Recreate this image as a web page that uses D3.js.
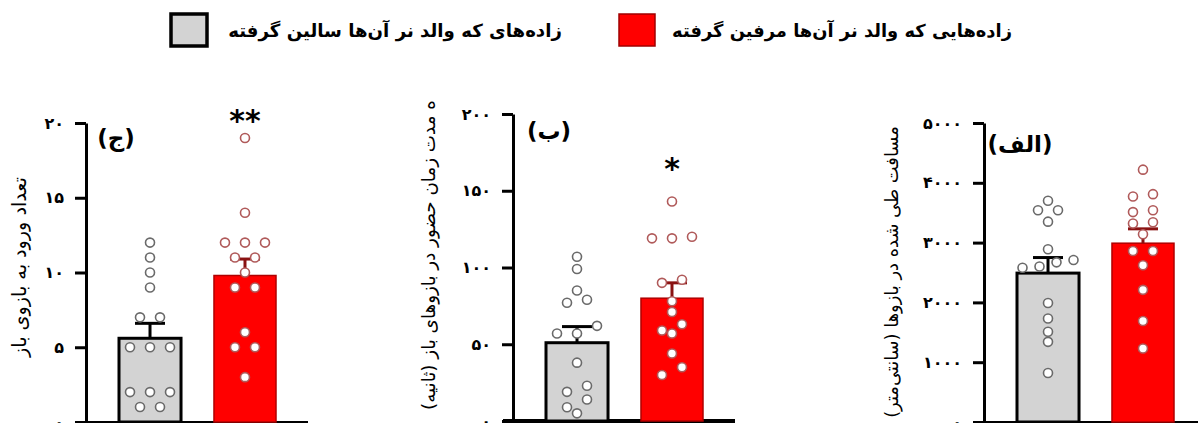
<!DOCTYPE html>
<html lang="fa">
<head>
<meta charset="UTF-8">
<title>Chart</title>
<style>
  body { margin: 0; background: #fff; }
  svg text { font-family: "DejaVu Sans", sans-serif; }
</style>
</head>
<body>
<script src="https://cdn.jsdelivr.net/npm/d3@7"></script>
<div id="chart"></div>
<script>
// ---- data ----
const groups = ["saline", "morphine"]
const legendLabels = ["زاده‌های که والد نر آن‌ها سالین گرفته", "زاده‌هایی که والد نر آن‌ها مرفین گرفته"]

// panel (ج) - number of entries
const entriesTicks = [0, 5, 10, 15, 20]
const entriesMean = [5.6, 9.8]
const entriesSem = [1.0, 1.1]
const entriesSaline = [12, 11, 10, 9, 7, 7, 5, 5, 5, 2, 2, 2, 1, 1]
const entriesMorphine = [19, 14, 12, 12, 12, 11, 11, 10, 9, 9, 6, 5, 5, 3]

// panel (ب) - time in open arms
const timeTicks = [0, 50, 100, 150, 200]
const timeMean = [51, 80]
const timeSem = [10.5, 10]
const timeSaline = [107, 99, 85, 79, 77, 62, 57, 57, 38, 23, 19, 14, 9, 5]
const timeMorphine = [143, 120, 119, 119, 92, 90, 78, 71, 63, 59, 57, 44, 35, 30]

// panel (الف) - distance
const distTicks = [0, 1000, 2000, 3000, 4000, 5000]
const distMean = [2490, 2990]
const distSem = [260, 240]
const distSaline = [3700, 3540, 3540, 3350, 2890, 2710, 2670, 2600, 2580, 1990, 1730, 1510, 1340, 820]
const distMorphine = [4220, 3810, 3770, 3540, 3510, 3340, 3320, 3140, 2860, 2860, 2620, 2210, 1690, 1230]

const WIDTH = 1198, HEIGHT = 423
const svg = d3.select("#chart").append("svg")
    .attr("width", WIDTH).attr("height", HEIGHT)

const faDigits = "۰۱۲۳۴۵۶۷۸۹"
const toFa = d => String(d).replace(/\d/g, c => faDigits[+c])

// shrink/grow a text node so it spans the given width
const fitText = (sel, target) => {
    const len = sel.node().getComputedTextLength()
    const fs = parseFloat(sel.style("font-size"))
    sel.style("font-size", (fs * target / len) + "px")
}

// ---- legend ----
const legendBoxes = [{ x: 171, fill: "#d3d3d3", stroke: "#000", sw: 3.5 }, { x: 619, fill: "#ff0000", stroke: "#a00000", sw: 1.5 }]
const legendText = [{ cx: 395, w: 334 }, { cx: 842, w: 340 }]
legendLabels.forEach((lab, i) => {
    svg.append("rect")
        .attr("x", legendBoxes[i].x).attr("y", 14)
        .attr("width", 36).attr("height", 32)
        .attr("fill", legendBoxes[i].fill)
        .attr("stroke", legendBoxes[i].stroke)
        .attr("stroke-width", legendBoxes[i].sw)
    const t = svg.append("text")
        .attr("x", legendText[i].cx).attr("y", 37)
        .attr("text-anchor", "middle")
        .attr("direction", "rtl")
        .style("font-size", "18px")
        .style("font-weight", "bold")
        .text(lab)
    fitText(t, legendText[i].w)
})

// ---- panels ----
const panels = [
    { axisX: 86, yr: [422, 123], ticks: entriesTicks, mean: entriesMean, sem: entriesSem,
      pts: [entriesSaline, entriesMorphine], title: "تعداد ورود به بازوی باز", titleX: 19, titleY: 267, titleW: 180,
      label: "(ج)", labelX: 116, labelY: 146, star: "**", baseW: 2 },
    { axisX: 513, yr: [421, 114], ticks: timeTicks, mean: timeMean, sem: timeSem,
      pts: [timeSaline, timeMorphine], title: "ه  مدت زمان حضور در بازوهای باز (ثانیه)", titleX: 428, titleY: 255, titleW: 310,
      label: "(ب)", labelX: 549, labelY: 139, star: "*", baseW: 4 },
    { axisX: 984, yr: [422, 123], ticks: distTicks, mean: distMean, sem: distSem,
      pts: [distSaline, distMorphine], title: "مسافت طی شده در بازوها (سانتی‌متر)", titleX: 891, titleY: 272, titleW: 292,
      label: "(الف)", labelX: 1020, labelY: 152, star: "", baseW: 2 }
]

const barFill = ["#d3d3d3", "#ff0000"]
const barStroke = ["#000", "#b00000"]
const barSW = [3, 1.5]
const errColor = ["#000", "#8a1212"]
const dotStroke = ["#6a6a6a", "#b05a5a"]
const R = 4.5

// column scatter: rows of near-equal values are centred, the rest dodge sideways
const swarm = (values, y, cx) => {
    const minD = 9.5, rowTol = 8.2
    const pts = values.map(v => ({ v, y: y(v) })).sort((a, b) => a.y - b.y)
    const placed = []
    const hit = (x, yy) => placed.some(p => Math.hypot(p.x - x, p.y - yy) < minD)
    let i = 0
    while (i < pts.length) {
        const row = [pts[i]]
        let j = i + 1
        while (j < pts.length && pts[j].y - pts[i].y <= rowTol) { row.push(pts[j]); j++ }
        row.sort((a, b) => a.v - b.v)
        const s = row.length > 3 ? 17 : 20
        const xs = row.map((p, k) => cx + (k - (row.length - 1) / 2) * s)
        if (row.every((p, k) => !hit(xs[k], p.y))) {
            row.forEach((p, k) => { p.x = xs[k]; placed.push(p) })
        } else {
            row.forEach(p => {
                for (let k = 0; k < 20; k++) {
                    const off = k === 0 ? 0 : (k % 2 ? -1 : 1) * Math.ceil(k / 2) * 20
                    if (!hit(cx + off, p.y)) { p.x = cx + off; placed.push(p); break }
                }
            })
        }
        i = j
    }
    return placed
}

panels.forEach(P => {
    const g = svg.append("g")
    const y = d3.scaleLinear()
        .domain([0, d3.max(P.ticks)])
        .range(P.yr)
    const x = d3.scaleBand()
        .domain(groups)
        .range([P.axisX + 33, P.axisX + 190])
        .paddingInner(0.347)
        .paddingOuter(0)

    // baseline
    g.append("line")
        .attr("x1", P.axisX - 10).attr("x2", P.axisX + 222)
        .attr("y1", y(0)).attr("y2", y(0))
        .attr("stroke", "#000").attr("stroke-width", P.baseW)

    // y axis
    const ax = g.append("g")
        .attr("transform", `translate(${P.axisX},0)`)
        .call(d3.axisLeft(y).tickValues(P.ticks).tickFormat(toFa)
            .tickSize(11).tickSizeOuter(0).tickPadding(11))
    ax.select(".domain").attr("stroke-width", 3).attr("stroke", "#000")
    ax.selectAll(".tick line").attr("stroke-width", 3).attr("stroke", "#000")
    ax.selectAll(".tick text")
        .style("font-size", "16px").style("font-weight", "bold")
        .attr("fill", "#000").attr("font-family", "DejaVu Sans")

    // bars
    groups.forEach((grp, i) => {
        g.append("rect")
            .attr("x", x(grp)).attr("width", x.bandwidth())
            .attr("y", y(P.mean[i])).attr("height", y(0) - y(P.mean[i]))
            .attr("fill", barFill[i]).attr("stroke", barStroke[i]).attr("stroke-width", barSW[i])
        const cx = x(grp) + x.bandwidth() / 2
        const top = y(P.mean[i] + P.sem[i])
        g.append("line")
            .attr("x1", cx).attr("x2", cx)
            .attr("y1", y(P.mean[i])).attr("y2", top)
            .attr("stroke", errColor[i]).attr("stroke-width", 3)
        g.append("line")
            .attr("x1", cx - 15).attr("x2", cx + 15)
            .attr("y1", top).attr("y2", top)
            .attr("stroke", errColor[i]).attr("stroke-width", 3)
    })

    // points
    groups.forEach((grp, i) => {
        const cx = x(grp) + x.bandwidth() / 2
        g.selectAll(null)
            .data(swarm(P.pts[i], y, cx))
            .join("circle")
            .attr("cx", d => d.x).attr("cy", d => d.y).attr("r", R)
            .attr("fill", "#fff").attr("stroke", dotStroke[i]).attr("stroke-width", 1.6)
    })

    // axis title
    const t = g.append("text")
        .attr("transform", `translate(${P.titleX},${P.titleY}) rotate(-90)`)
        .attr("text-anchor", "middle")
        .attr("dominant-baseline", "central")
        .attr("direction", "rtl")
        .style("font-size", "15px")
        .text(P.title)
    fitText(t, P.titleW)

    // panel label
    g.append("text")
        .attr("x", P.labelX).attr("y", P.labelY)
        .attr("text-anchor", "middle")
        .attr("direction", "rtl")
        .style("font-size", "23px").style("font-weight", "bold")
        .text(P.label)

    // significance
    if (P.star) {
        const cx = x("morphine") + x.bandwidth() / 2
        const top = y(d3.max(P.pts[1]))
        g.append("text")
            .attr("x", cx).attr("y", P.star === "**" ? top - 7 : top - 22)
            .attr("text-anchor", "middle")
            .style("font-size", "30px").style("font-weight", "bold")
            .text(P.star)
    }
})
</script>
</body>
</html>
